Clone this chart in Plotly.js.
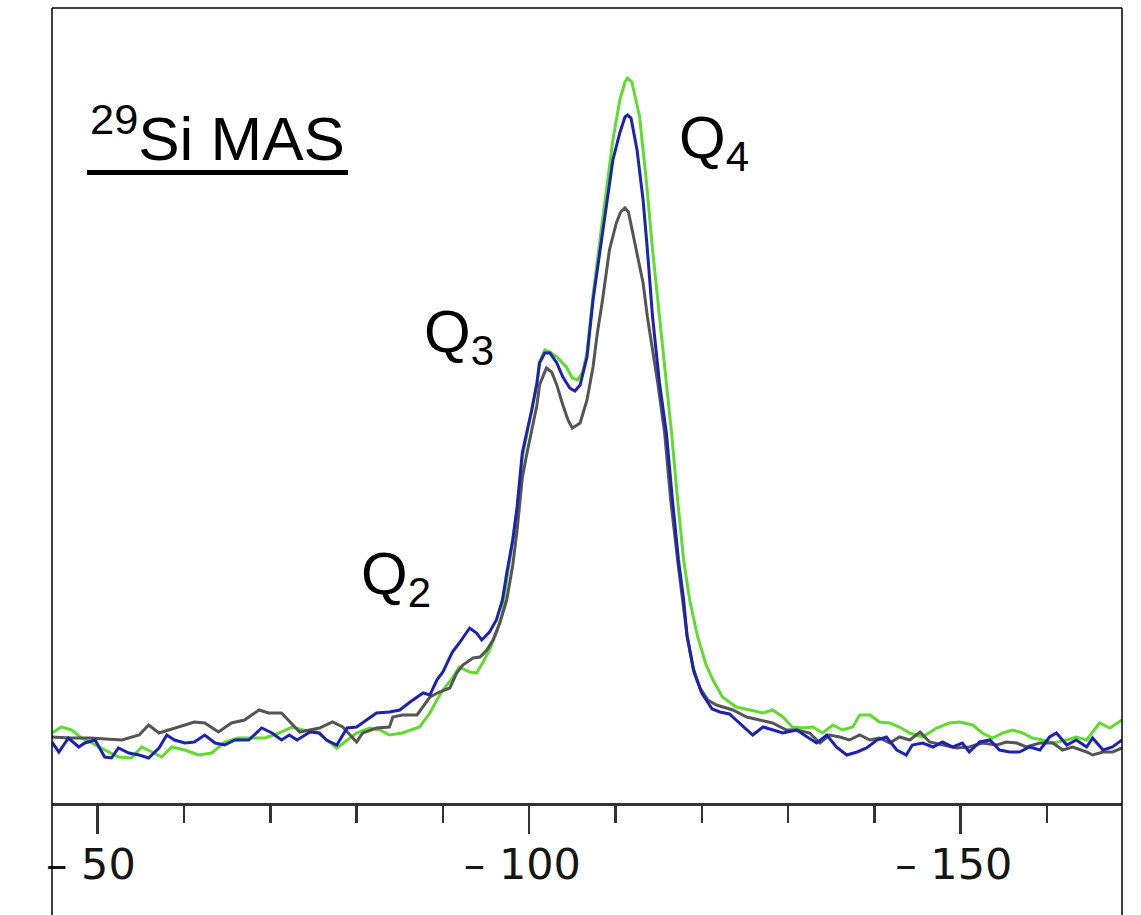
<!DOCTYPE html>
<html>
<head>
<meta charset="utf-8">
<script src="https://cdn.plot.ly/plotly-3.0.1.min.js"></script>
<style>html,body{margin:0;padding:0;background:#fff;}#chart{width:1141px;height:915px;}</style>
</head>
<body>
<div id="chart"></div>
<script>
// 29Si MAS NMR spectra, chemical shift in ppm (axis runs from -44.7 to -168.7 ppm)
const blueShift = [-44.7,-45.5,-46.6,-47.8,-48.5,-49.7,-50.8,-51.6,-52.4,-53.6,-54.8,-55.9,-57.1,-58.0,-58.9,-60.1,-61.2,-62.4,-63.6,-64.7,-65.9,-67.5,-69.0,-70.2,-71.3,-72.2,-73.1,-74.6,-75.7,-76.5,-77.7,-78.9,-80.0,-81.2,-82.3,-83.8,-85.0,-86.2,-87.7,-88.5,-89.3,-90.0,-91.1,-91.9,-93.1,-93.9,-94.5,-95.4,-96.2,-96.9,-97.4,-98.1,-98.6,-98.9,-99.2,-99.7,-100.3,-100.9,-101.2,-101.8,-102.4,-103.2,-103.9,-104.7,-105.3,-105.9,-106.7,-107.4,-108.2,-109.0,-109.7,-110.5,-111.1,-111.4,-111.8,-112.5,-113.2,-113.7,-114.3,-115.1,-115.9,-116.6,-117.3,-117.9,-118.3,-119.1,-120.0,-121.2,-122.1,-123.2,-124.4,-125.9,-127.1,-128.2,-129.4,-131.0,-132.2,-133.3,-134.5,-135.6,-136.8,-138.0,-139.1,-140.3,-141.4,-142.6,-143.7,-144.4,-145.6,-146.8,-147.9,-149.1,-150.2,-151.0,-152.2,-153.4,-154.5,-155.7,-156.8,-158.0,-159.2,-160.3,-161.1,-162.3,-163.4,-164.6,-165.3,-166.5,-167.6,-168.7];
const blueIntensity = [-2,-12,2,-7,-3,0,-17,-18,-8,-13,-15,-18,-8,5,0,-3,-2,5,-3,-5,0,0,12,7,0,5,0,8,7,0,-5,12,13,20,27,28,30,38,47,45,60,68,88,97,112,107,100,108,120,140,167,200,233,260,287,307,330,357,377,387,387,377,363,352,349,355,383,440,490,540,580,607,623,625,622,590,540,490,423,357,307,240,180,140,104,68,47,31,28,26,17,5,13,10,7,10,3,-3,5,-7,-15,-12,-8,0,3,-10,-15,-5,-3,-7,-2,-7,-3,-12,-2,0,-10,-12,-12,-7,-10,3,7,-5,0,-7,2,-10,-7,0];

const greenShift = [-44.7,-45.8,-47.0,-48.1,-49.3,-50.8,-52.4,-53.9,-55.1,-56.3,-57.4,-58.6,-60.1,-61.7,-63.2,-64.7,-66.3,-67.8,-69.4,-71.0,-72.5,-73.8,-75.4,-77.7,-78.9,-80.0,-81.5,-82.7,-83.8,-85.3,-87.3,-88.5,-89.3,-90.0,-91.1,-91.9,-93.1,-93.9,-94.6,-95.4,-96.2,-96.9,-97.4,-98.1,-98.6,-98.9,-99.2,-99.7,-100.3,-100.9,-101.2,-101.8,-102.4,-103.2,-104.3,-105.0,-105.6,-106.2,-106.7,-107.4,-108.2,-109.0,-109.7,-110.5,-111.1,-111.4,-111.9,-112.8,-113.6,-114.3,-115.1,-115.9,-116.5,-117.2,-117.9,-118.6,-119.5,-120.5,-121.3,-122.4,-124.0,-125.6,-127.1,-128.2,-129.4,-130.5,-131.7,-132.9,-134.0,-135.2,-136.3,-137.5,-138.3,-139.5,-140.6,-141.8,-142.9,-144.1,-145.6,-147.2,-148.7,-149.9,-151.4,-152.5,-153.7,-154.9,-156.0,-157.2,-158.3,-159.5,-160.7,-162.3,-163.4,-164.6,-166.1,-167.3,-168.7];
const greenIntensity = [7,13,10,2,-3,-10,-17,-18,-7,-12,-17,-7,-10,-15,-13,-2,2,2,2,7,13,10,8,-8,0,7,12,10,5,7,13,27,40,50,62,73,68,67,77,90,107,127,160,200,230,255,282,304,330,357,378,390,388,383,373,362,360,368,388,445,500,555,600,640,658,662,658,623,557,490,423,357,307,240,180,140,104,75,60,43,33,30,27,30,23,13,12,13,7,15,10,13,25,25,18,17,13,7,3,12,17,18,15,7,2,7,10,7,2,0,-3,0,3,0,17,12,20];

const grayShift = [-44.7,-46.8,-49.1,-51.4,-52.8,-54.8,-55.9,-57.1,-58.2,-59.4,-61.2,-62.4,-64.0,-65.5,-67.0,-68.7,-69.8,-71.3,-72.1,-73.4,-75.7,-77.2,-78.4,-80.0,-80.7,-82.3,-83.8,-84.2,-85.3,-87.0,-88.5,-89.6,-90.8,-91.6,-92.3,-93.5,-94.3,-95.1,-95.8,-96.6,-97.4,-98.1,-98.6,-98.9,-99.2,-99.7,-100.3,-100.9,-101.2,-102.0,-102.6,-103.2,-103.9,-104.5,-105.0,-105.9,-106.7,-107.4,-107.9,-108.5,-109.3,-110.1,-110.6,-111.1,-111.5,-112.0,-113.2,-113.7,-114.3,-114.9,-115.7,-116.4,-117.2,-117.8,-118.3,-119.0,-119.8,-120.7,-121.7,-123.6,-125.2,-126.7,-128.2,-129.8,-131.0,-132.5,-133.7,-134.8,-136.0,-137.1,-138.3,-139.5,-140.6,-141.8,-142.9,-144.1,-145.3,-146.4,-147.9,-149.5,-151.0,-152.5,-154.2,-155.3,-156.5,-157.6,-159.2,-160.7,-161.8,-163.0,-164.6,-165.3,-166.5,-167.6,-168.7];
const grayIntensity = [3,2,2,1,0,5,15,7,10,13,18,17,8,17,20,30,27,27,20,8,12,18,13,-2,7,12,13,23,25,25,43,48,52,67,75,82,83,90,100,117,140,175,210,237,262,285,310,335,355,372,368,355,335,320,312,317,340,373,407,440,490,517,528,532,528,507,457,423,390,357,307,240,180,140,104,72,52,40,35,30,23,20,17,10,10,7,-3,5,3,0,5,0,2,-3,3,0,8,-2,-5,-8,-7,-3,-5,-2,-3,-7,-3,-3,-10,-7,-12,-15,-12,-12,-8];

const majorTicks = [-50, -100, -150];
const majorTickText = ['\u2013 50\u00A0', '\u2013 100\u00A0', '\u2013 150\u00A0'];
const peakLabels = ['Q<sub>4</sub>', 'Q<sub>3</sub>', 'Q<sub>2</sub>'];
const titleText = '<sup>29</sup>Si MAS';

const traces = [
  {x: greenShift, y: greenIntensity, type: 'scatter', mode: 'lines', line: {color: '#5fdc2e', width: 3}, hoverinfo: 'skip'},
  {x: grayShift, y: grayIntensity, type: 'scatter', mode: 'lines', line: {color: '#555555', width: 3}, hoverinfo: 'skip'},
  {x: blueShift, y: blueIntensity, type: 'scatter', mode: 'lines', line: {color: '#1e22b0', width: 3}, hoverinfo: 'skip'}
];

const qFont = {family: 'Liberation Sans, Arial, sans-serif', size: 60, color: '#000'};
const layout = {
  width: 1141, height: 915,
  margin: {l: 52, r: 19, t: 8, b: 112},
  paper_bgcolor: '#ffffff', plot_bgcolor: '#ffffff',
  showlegend: false,
  xaxis: {
    range: [-44.7, -168.7],
    showgrid: false, zeroline: false,
    showline: true, linecolor: '#333333', linewidth: 3,
    ticks: 'outside', ticklen: 28, tickwidth: 2.5, tickcolor: '#333333',
    tickmode: 'array', tickvals: majorTicks, ticktext: majorTickText,
    ticklabelstandoff: -7,
    tickfont: {family: 'DejaVu Sans', size: 43, color: '#151515'},
    minor: {dtick: 10, tick0: 0, ticks: 'outside', ticklen: 17, tickwidth: 2.5, tickcolor: '#333333', showgrid: false}
  },
  yaxis: {range: [-63, 732], visible: false, showgrid: false, zeroline: false},
  shapes: [
    {type: 'line', xref: 'paper', yref: 'paper', x0: 0, x1: 1, y0: 1, y1: 1, line: {color: '#000', width: 1.5}},
    {type: 'line', xref: 'paper', yref: 'paper', x0: 0, x1: 0, y0: -0.145, y1: 1, line: {color: '#000', width: 1.5}},
    {type: 'line', xref: 'paper', yref: 'paper', x0: 1, x1: 1, y0: -0.145, y1: 1, line: {color: '#000', width: 1.5}},
    {type: 'line', xref: 'paper', yref: 'paper', x0: 0.0327, x1: 0.2766, y0: 0.7931, y1: 0.7931, line: {color: '#000', width: 5}}
  ],
  annotations: [
    {text: titleText, xref: 'paper', yref: 'paper', x: 0.0336, y: 0.8415, xanchor: 'left', yanchor: 'middle', showarrow: false, font: {family: 'Liberation Sans, Arial, sans-serif', size: 62, color: '#000'}},
    {text: peakLabels[0], xref: 'paper', yref: 'paper', x: 0.584, y: 0.832, xanchor: 'left', yanchor: 'middle', showarrow: false, font: qFont},
    {text: peakLabels[1], xref: 'paper', yref: 'paper', x: 0.3458, y: 0.5874, xanchor: 'left', yanchor: 'middle', showarrow: false, font: qFont},
    {text: peakLabels[2], xref: 'paper', yref: 'paper', x: 0.287, y: 0.283, xanchor: 'left', yanchor: 'middle', showarrow: false, font: qFont}
  ]
};

Plotly.newPlot('chart', traces, layout, {staticPlot: true, displayModeBar: false});
</script>
</body>
</html>
